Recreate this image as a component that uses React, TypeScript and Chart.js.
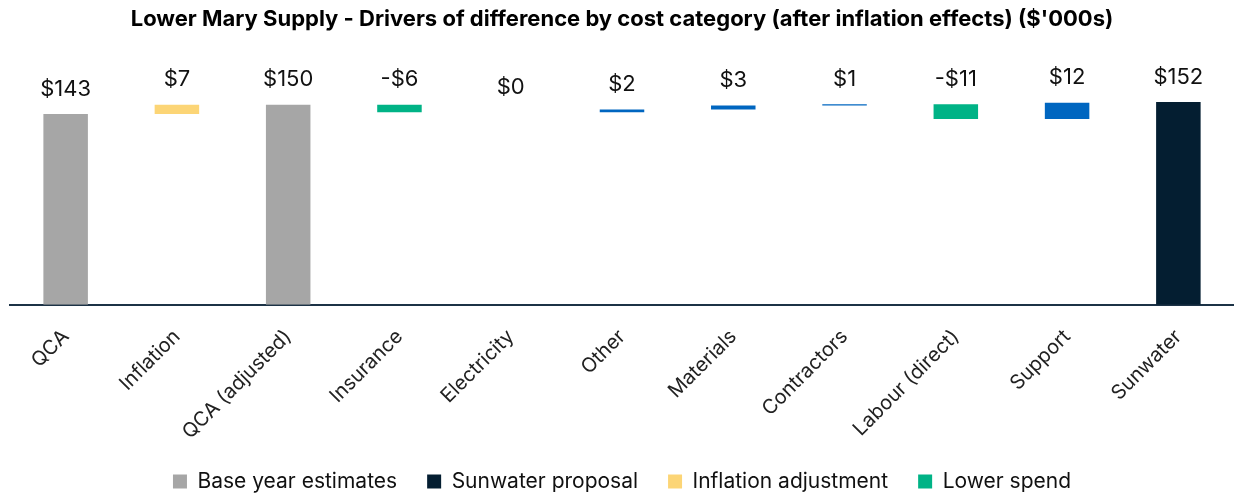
import React, { useEffect, useRef } from "react";
import { Chart, registerables } from "chart.js";

Chart.register(...registerables);

const titleText =
  "Lower Mary Supply - Drivers of difference by cost category (after inflation effects) ($'000s)";

const categories = [
  "QCA",
  "Inflation",
  "QCA (adjusted)",
  "Insurance",
  "Electricity",
  "Other",
  "Materials",
  "Contractors",
  "Labour (direct)",
  "Support",
  "Sunwater",
];

// totals are absolute levels, the rest are changes from the previous level
const values = [143, 7, 150, -5.6, 0, 2, 3, 1, -11, 12, 152];
const kinds = [
  "base",
  "inflation",
  "base",
  "lower",
  "higher",
  "higher",
  "higher",
  "higher",
  "lower",
  "higher",
  "proposal",
];

const seriesKeys = ["base", "proposal", "inflation", "lower", "higher"];
const seriesNames = [
  "Base year estimates",
  "Sunwater proposal",
  "Inflation adjustment",
  "Lower spend",
  "Higher spend",
];
const seriesColors = ["#a6a6a6", "#041e31", "#fcd576", "#00b386", "#0066c0"];
const legendHidden = ["Higher spend"];

const FONT = "Inter, 'Noto Sans', sans-serif";

function buildRanges(): [number, number][] {
  const ranges: [number, number][] = [];
  let level = 0;
  values.forEach((v, i) => {
    const k = kinds[i];
    if (k === "base" || k === "proposal") {
      ranges.push([0, v]);
      level = v;
    } else {
      ranges.push([level, level + v]);
      level = level + v;
    }
  });
  return ranges;
}

function formatValue(v: number): string {
  const r = Math.round(Math.abs(v));
  return (v < 0 && r !== 0 ? "-" : "") + "$" + r;
}

const valueLabelPlugin = {
  id: "valueLabels",
  afterDatasetsDraw(chart: any) {
    const ctx = chart.ctx;
    ctx.save();
    ctx.font = `400 22px ${FONT}`;
    ctx.fillStyle = "#111111";
    ctx.textAlign = "center";
    ctx.textBaseline = "middle";
    chart.data.datasets.forEach((ds: any, di: number) => {
      const meta = chart.getDatasetMeta(di);
      meta.data.forEach((el: any, i: number) => {
        if (ds.data[i] == null) return;
        const top = Math.min(el.y, el.base);
        ctx.fillText(formatValue(values[i]), el.x, top - 25);
      });
    });
    ctx.restore();
  },
};

export default function App() {
  const canvasRef = useRef<HTMLCanvasElement | null>(null);

  useEffect(() => {
    if (!canvasRef.current) return;
    const ranges = buildRanges();
    const datasets = seriesKeys.map((key, si) => ({
      label: seriesNames[si],
      data: categories.map((_, i) => (kinds[i] === key ? ranges[i] : null)),
      backgroundColor: seriesColors[si],
      borderWidth: 0,
      grouped: false,
      categoryPercentage: 1,
      barPercentage: 0.4,
    }));

    const chart = new Chart(canvasRef.current, {
      type: "bar",
      data: { labels: categories, datasets: datasets as any },
      options: {
        responsive: false,
        animation: false,
        layout: { padding: { left: 10, right: 0, top: 0, bottom: -8 } },
        scales: {
          x: {
            grid: { display: false },
            border: { display: true, color: "#1c3246", width: 2 },
            afterFit: (scale: any) => {
              scale.height -= 15;
            },
            ticks: {
              minRotation: 45,
              maxRotation: 45,
              padding: 12,
              color: "#222222",
              font: { family: FONT, size: 20 },
            },
          },
          y: {
            display: false,
            min: 0,
            max: 160,
          },
        },
        plugins: {
          title: {
            display: true,
            text: titleText,
            color: "#000000",
            font: { family: FONT, size: 22, weight: "bold" },
            padding: { top: 6, bottom: 59 },
          },
          legend: {
            position: "bottom",
            labels: {
              filter: (item: any) => !legendHidden.includes(item.text),
              boxWidth: 14,
              boxHeight: 14,
              padding: 30,
              color: "#111111",
              font: { family: FONT, size: 21 },
            },
          },
          tooltip: { enabled: false },
        },
      },
      plugins: [valueLabelPlugin],
    });
    return () => chart.destroy();
  }, []);

  return (
    <div style={{ position: "absolute", left: 0, top: 0, width: 1234, height: 494, background: "#ffffff" }}>
      <canvas ref={canvasRef} width={1234} height={494} style={{ display: "block" }} />
    </div>
  );
}
